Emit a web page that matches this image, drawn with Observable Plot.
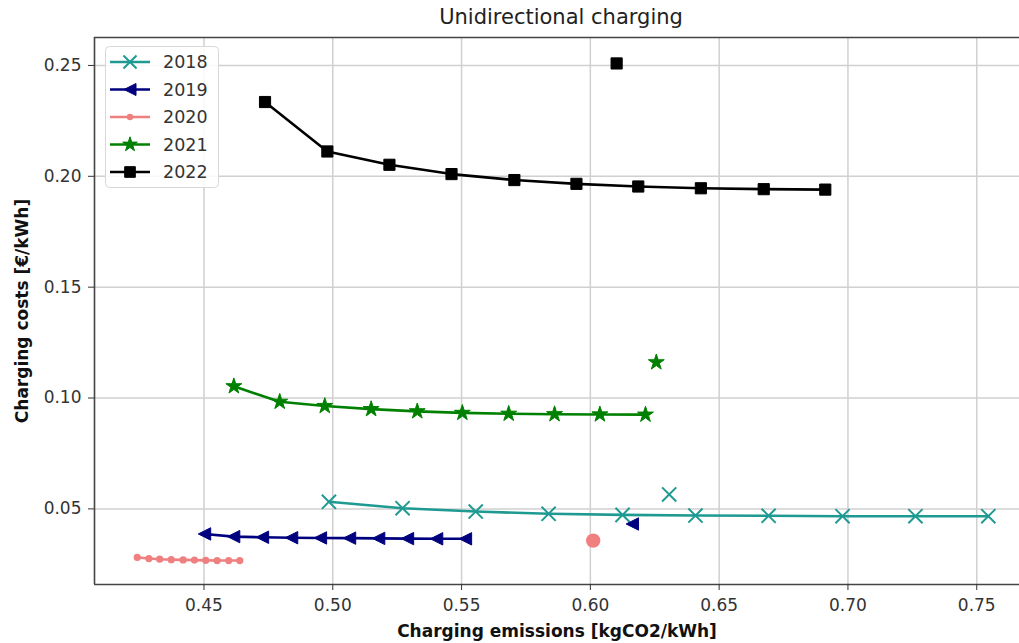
<!DOCTYPE html>
<html><head><meta charset="utf-8">
<script src="https://cdn.jsdelivr.net/npm/d3@7"></script>
<script src="https://cdn.jsdelivr.net/npm/@observablehq/plot@0.6"></script>
<style>
body{margin:0;background:#fff;font-family:"DejaVu Sans",sans-serif;}
#wrap{position:relative;width:1019px;height:643px;overflow:hidden;}
#legend{position:absolute;left:105px;top:46px;}
</style></head><body><div id="wrap"></div>
<script>
// ---- data ----
const years = ["2018", "2019", "2020", "2021", "2022"];
const colors = ["#1f9a92", "#00007f", "#f08080", "#008000", "#000000"];

const x2018 = [0.4985, 0.5271, 0.5555, 0.5838, 0.6125, 0.6408, 0.6692, 0.6979, 0.7262, 0.7545];
const y2018 = [0.0532, 0.0503, 0.0488, 0.0478, 0.0473, 0.0470, 0.0469, 0.0467, 0.0467, 0.0467];

const x2019 = [0.4502, 0.4615, 0.4727, 0.4840, 0.4952, 0.5065, 0.5178, 0.5290, 0.5403, 0.5515];
const y2019 = [0.0387, 0.0375, 0.0372, 0.0370, 0.0369, 0.0368, 0.0367, 0.0366, 0.0365, 0.0365];

const x2020 = [0.4241, 0.4286, 0.4328, 0.4373, 0.4419, 0.4463, 0.4507, 0.4551, 0.4596, 0.4639];
const y2020 = [0.0281, 0.0276, 0.0273, 0.0271, 0.0270, 0.0269, 0.0268, 0.0267, 0.0267, 0.0267];

const x2021 = [0.4616, 0.4794, 0.4969, 0.5149, 0.5328, 0.5503, 0.5683, 0.5861, 0.6037, 0.6214];
const y2021 = [0.1053, 0.0983, 0.0964, 0.0950, 0.0940, 0.0933, 0.0929, 0.0927, 0.0926, 0.0925];

const x2022 = [0.4737, 0.4979, 0.5220, 0.5461, 0.5705, 0.5946, 0.6186, 0.6429, 0.6673, 0.6912];
const y2022 = [0.2335, 0.2112, 0.2052, 0.2010, 0.1983, 0.1966, 0.1954, 0.1946, 0.1942, 0.1940];

// single (unconnected) points per year
const xOut = [0.6306, 0.6163, 0.6011, 0.6256, 0.6102];
const yOut = [0.0565, 0.0432, 0.0357, 0.1161, 0.2509];

const xTicks = [0.45, 0.50, 0.55, 0.60, 0.65, 0.70, 0.75];
const yTicks = [0.05, 0.10, 0.15, 0.20, 0.25];
const xDomain = [0.4075, 0.7666];
const yDomain = [0.0159, 0.2626];

// ---- styles ----
const triLeft = {
  draw(ctx, size) {
    const s = Math.sqrt(size / Math.PI);
    ctx.moveTo(-s, 0); ctx.lineTo(s, -s); ctx.lineTo(s, s); ctx.closePath();
  }
};
const xs = [x2018, x2019, x2020, x2021, x2022];
const ys = [y2018, y2019, y2020, y2021, y2022];
const markStyle = [
  {symbol: "times", r: 6.5, fill: "none", strokeWidth: 2, outR: 6.5},
  {symbol: triLeft, r: 6.2, fill: "c", strokeWidth: 1, outR: 6.2},
  {symbol: "circle", r: 3.6, fill: "c", strokeWidth: 0, outR: 7.2},
  {symbol: "star", r: 5, fill: "c", strokeWidth: 1, outR: 5},
  {symbol: "square", r: 6.3, fill: "c", strokeWidth: 1, outR: 6.3}
];

const series = years.map((yr, i) => xs[i].map((x, j) => ({year: yr, x, y: ys[i][j]})));
const singles = years.map((yr, i) => [{year: yr, x: xOut[i], y: yOut[i]}]);

const marks = [
  Plot.gridX(xTicks, {stroke: "#d0d0d0", strokeOpacity: 1, strokeWidth: 1.5}),
  Plot.gridY(yTicks, {stroke: "#d0d0d0", strokeOpacity: 1, strokeWidth: 1.5}),
  Plot.ruleX([xDomain[0]], {stroke: "#444", strokeWidth: 1.6}),
  Plot.ruleY([yDomain[0]], {stroke: "#444", strokeWidth: 1.6}),
  Plot.ruleY([yDomain[1]], {stroke: "#444", strokeWidth: 1.6})
];
years.forEach((yr, i) => {
  const st = markStyle[i], c = colors[i];
  marks.push(Plot.line(series[i], {x: "x", y: "y", stroke: c, strokeWidth: 2.6}));
  marks.push(Plot.dot(series[i], {x: "x", y: "y", symbol: st.symbol, r: st.r,
    fill: st.fill === "c" ? c : "none", stroke: c, strokeWidth: st.strokeWidth}));
});
years.forEach((yr, i) => {
  const st = markStyle[i], c = colors[i];
  marks.push(Plot.dot(singles[i], {x: "x", y: "y", symbol: st.symbol, r: st.outR,
    fill: st.fill === "c" ? c : "none", stroke: c, strokeWidth: st.strokeWidth}));
});
marks.push(Plot.axisX({ticks: xTicks, tickFormat: d3.format(".2f"), tickSize: 6, tickPadding: 8,
  label: "Charging emissions [kgCO2/kWh]", labelAnchor: "center", labelOffset: 52, labelArrow: "none"}));
marks.push(Plot.axisY({ticks: yTicks, tickFormat: d3.format(".2f"), tickSize: 6, tickPadding: 7,
  label: "Charging costs [€/kWh]", labelAnchor: "center", labelOffset: 79, labelArrow: "none"}));

const chart = Plot.plot({
  width: 1019, height: 643,
  marginLeft: 94, marginRight: 0, marginTop: 37, marginBottom: 59,
  x: {domain: xDomain}, y: {domain: yDomain},
  style: {fontFamily: "DejaVu Sans", fontSize: "17px", color: "#333", background: "#fff"},
  marks
});
const svg = d3.select(chart);
svg.selectAll('g[aria-label="x-axis label"] text, g[aria-label="y-axis label"] text')
  .attr("font-weight", "bold").attr("fill", "#111");
svg.append("text").attr("x", 561).attr("y", 24).attr("text-anchor", "middle")
  .attr("font-size", 21).attr("fill", "#222").text("Unidirectional charging");
document.getElementById("wrap").appendChild(chart);

// ---- legend ----
const lg = d3.select("#wrap").append("svg").attr("id", "legend").attr("width", 114).attr("height", 142);
lg.append("rect").attr("x", 0.5).attr("y", 0.5).attr("width", 113).attr("height", 141).attr("rx", 4)
  .attr("fill", "rgba(255,255,255,0.85)").attr("stroke", "#d8d8d8");
const symTypes = [d3.symbolTimes, triLeft, d3.symbolCircle, d3.symbolStar, d3.symbolSquare];
const legR = [6, 6, 3.2, 4.6, 6];
years.forEach((yr, i) => {
  const g = lg.append("g").attr("transform", `translate(0,${16 + i * 27.5})`);
  g.append("line").attr("x1", 5).attr("x2", 45).attr("stroke", colors[i]).attr("stroke-width", 2.5);
  const st = markStyle[i];
  g.append("path").attr("transform", "translate(25,0)")
    .attr("d", d3.symbol(symTypes[i], Math.PI * legR[i] * legR[i])())
    .attr("fill", st.fill === "c" ? colors[i] : "none").attr("stroke", colors[i]).attr("stroke-width", st.strokeWidth);
  g.append("text").attr("x", 58).attr("dy", "0.35em").attr("font-size", 17.5).attr("fill", "#333").text(yr);
});
</script></body></html>
